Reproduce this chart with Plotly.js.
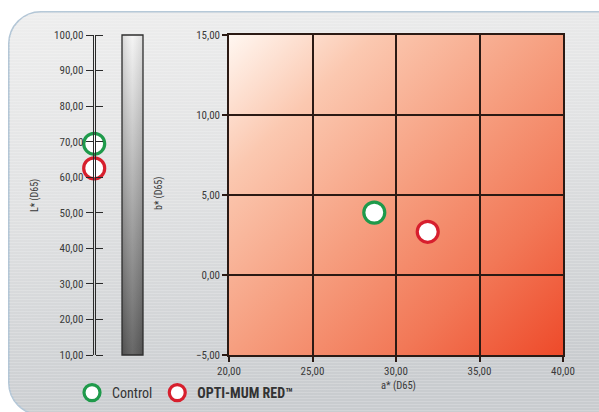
<!DOCTYPE html>
<html>
<head>
<meta charset="utf-8">
<script src="https://cdn.plot.ly/plotly-3.0.1.min.js"></script>
<style>
html,body{margin:0;padding:0;background:#fff;}
#chart{width:599px;height:412px;}
</style>
</head>
<body>
<div id="chart"></div>
<script>
// ---- data ----
const samples = ['Control', 'OPTI-MUM RED\u2122'];
const lightness = [69.4, 62.5];     // L* (D65)
const aStar = [28.7, 31.9];         // a* (D65)
const bStar = [3.9, 2.7];           // b* (D65)
const lTicks = [10, 20, 30, 40, 50, 60, 70, 80, 90, 100];
const aTicks = [20, 25, 30, 35, 40];
const bTicks = [-5, 0, 5, 10, 15];

// ---- styles ----
const W = 599, H = 412;
const FONT = "'Liberation Sans Narrow', 'Arial Narrow', 'Roboto Condensed', 'Liberation Sans', sans-serif";
const markerColors = ['#1f9a4b', '#d71f2d'];
const legendNames = ['Control', '<b>OPTI-MUM RED\u2122</b>'];
const px = v => v / W;
const py = v => 1 - v / H;

function svgURI(s){ return 'data:image/svg+xml;charset=utf-8,' + encodeURIComponent(s); }

const panelSVG = `<svg xmlns="http://www.w3.org/2000/svg" width="640" height="420" viewBox="0 0 640 420">
<defs><linearGradient id="g" x1="0" y1="0" x2="0.25" y2="1">
<stop offset="0" stop-color="#eeeeee"/><stop offset="0.45" stop-color="#e1e2e3"/><stop offset="1" stop-color="#c9cccf"/></linearGradient>
<pattern id="p" width="8" height="3" patternUnits="userSpaceOnUse"><rect width="8" height="1" fill="#ffffff" opacity="0.18"/></pattern></defs>
<rect x="0.8" y="0.8" width="700" height="403" rx="32" ry="32" fill="url(#g)" stroke="#b3c6d6" stroke-width="1.6"/>
<rect x="0.8" y="0.8" width="700" height="403" rx="32" ry="32" fill="url(#p)"/>
</svg>`;

const plotSVG = `<svg xmlns="http://www.w3.org/2000/svg" width="334" height="320" viewBox="0 0 334 320" preserveAspectRatio="none">
<defs><linearGradient id="r" x1="0" y1="0" x2="1" y2="1">
<stop offset="0" stop-color="#fff7f1"/><stop offset="0.22" stop-color="#fbc8b0"/><stop offset="0.5" stop-color="#f69e7f"/><stop offset="0.75" stop-color="#f27857"/><stop offset="1" stop-color="#ee4a2a"/></linearGradient></defs>
<rect width="334" height="320" fill="url(#r)"/></svg>`;

const barSVG = `<svg xmlns="http://www.w3.org/2000/svg" width="21" height="320" viewBox="0 0 21 320" preserveAspectRatio="none">
<defs><linearGradient id="v" x1="0" y1="0" x2="0" y2="1">
<stop offset="0" stop-color="#f4f4f4"/><stop offset="1" stop-color="#5a5a5a"/></linearGradient>
<linearGradient id="h" x1="0" y1="0" x2="1" y2="0">
<stop offset="0" stop-color="#000" stop-opacity="0.12"/><stop offset="0.5" stop-color="#fff" stop-opacity="0.08"/><stop offset="1" stop-color="#000" stop-opacity="0.1"/></linearGradient></defs>
<rect width="21" height="320" fill="url(#v)"/><rect width="21" height="320" fill="url(#h)"/></svg>`;

const traces = [];
samples.forEach((s, i) => {
  traces.push({
    type: 'scatter', mode: 'markers', name: legendNames[i],
    x: [aStar[i]], y: [bStar[i]], xaxis: 'x', yaxis: 'y',
    marker: {symbol: 'circle', size: 21, color: '#ffffff', line: {color: markerColors[i], width: 3.2}},
    hovertemplate: s + '<br>a*: %{x}<br>b*: %{y}<extra></extra>'
  });
});
samples.forEach((s, i) => {
  traces.push({
    type: 'scatter', mode: 'markers', name: legendNames[i], showlegend: false,
    x: [0.5], y: [lightness[i]], xaxis: 'x2', yaxis: 'y2', cliponaxis: false,
    marker: {symbol: 'circle', size: 21, color: '#ffffff', line: {color: markerColors[i], width: 3.2}},
    hovertemplate: s + '<br>L*: %{y}<extra></extra>'
  });
});

const tickFont = {family: FONT, size: 11, color: '#3a3a3a'};
const gridCol = '#2b1a14';

const layout = {
  width: W, height: H,
  margin: {l: 0, r: 0, t: 0, b: 0},
  paper_bgcolor: '#ffffff', plot_bgcolor: 'rgba(0,0,0,0)',
  separators: ',.',
  font: {family: FONT, color: '#3a3a3a'},
  xaxis: {
    domain: [px(229), px(563)], range: [20, 40], tickvals: aTicks, tickformat: '.2f',
    showgrid: true, gridcolor: gridCol, gridwidth: 1.5, zeroline: false,
    showline: true, linecolor: gridCol, linewidth: 1.5, mirror: true,
    ticks: 'outside', ticklen: 5, tickcolor: gridCol, tickwidth: 1.5,
    tickfont: tickFont, fixedrange: true, anchor: 'y'
  },
  yaxis: {
    domain: [py(355), py(35)], range: [-5, 15], tickvals: bTicks, tickformat: '.2f',
    showgrid: true, gridcolor: gridCol, gridwidth: 1.5, zeroline: false,
    showline: true, linecolor: gridCol, linewidth: 1.5, mirror: true,
    ticks: 'outside', ticklen: 5, tickcolor: gridCol, tickwidth: 1.5,
    tickfont: tickFont, fixedrange: true, anchor: 'x'
  },
  xaxis2: {domain: [px(93.8), px(94.6)], range: [0, 1], visible: false, fixedrange: true, anchor: 'y2'},
  yaxis2: {
    domain: [py(355), py(35)], range: [10, 100], tickvals: lTicks, tickformat: '.2f',
    showgrid: false, zeroline: false, showline: true, linecolor: '#2a2a2a', linewidth: 1.4,
    mirror: 'ticks', ticks: 'outside', ticklen: 7, tickcolor: '#2a2a2a', tickwidth: 1.4,
    tickfont: tickFont, fixedrange: true, anchor: 'x2'
  },
  images: [
    {source: svgURI(panelSVG), xref: 'paper', yref: 'paper', x: px(8), y: py(11),
     sizex: 640 / W, sizey: 420 / H, xanchor: 'left', yanchor: 'top', sizing: 'stretch', layer: 'below'},
    {source: svgURI(plotSVG), xref: 'x', yref: 'y', x: 20, y: 15, sizex: 20, sizey: 20,
     xanchor: 'left', yanchor: 'top', sizing: 'stretch', layer: 'below'},
    {source: svgURI(barSVG), xref: 'paper', yref: 'paper', x: px(122), y: py(35),
     sizex: 21 / W, sizey: 320 / H, xanchor: 'left', yanchor: 'top', sizing: 'stretch', layer: 'below'}
  ],
  shapes: [
    {type: 'rect', xref: 'paper', yref: 'paper', x0: px(122), x1: px(143), y0: py(355), y1: py(35),
     line: {color: '#2e2e2e', width: 1.3}, fillcolor: 'rgba(0,0,0,0)', layer: 'above'}
  ],
  annotations: [
    {text: 'L* (D65)', xref: 'paper', yref: 'paper', x: px(35), y: py(196), textangle: -90,
     xanchor: 'center', yanchor: 'middle',
     showarrow: false, font: {family: FONT, size: 10, color: '#3a3a3a'}},
    {text: 'b* (D65)', xref: 'paper', yref: 'paper', x: px(159), y: py(194), textangle: -90,
     xanchor: 'center', yanchor: 'middle',
     showarrow: false, font: {family: FONT, size: 10, color: '#3a3a3a'}},
    {text: 'a* (D65)', xref: 'paper', yref: 'paper', x: px(398), y: py(385),
     xanchor: 'center', yanchor: 'middle',
     showarrow: false, font: {family: FONT, size: 10.5, color: '#3a3a3a'}}
  ],
  showlegend: true,
  legend: {
    orientation: 'h', x: px(72), xanchor: 'left', y: py(393), yanchor: 'middle',
    bgcolor: 'rgba(0,0,0,0)', borderwidth: 0, traceorder: 'normal',
    font: {family: FONT, size: 14, color: '#333333'}
  }
};

Plotly.newPlot('chart', traces, layout, {displayModeBar: false, staticPlot: false});
</script>
</body>
</html>
